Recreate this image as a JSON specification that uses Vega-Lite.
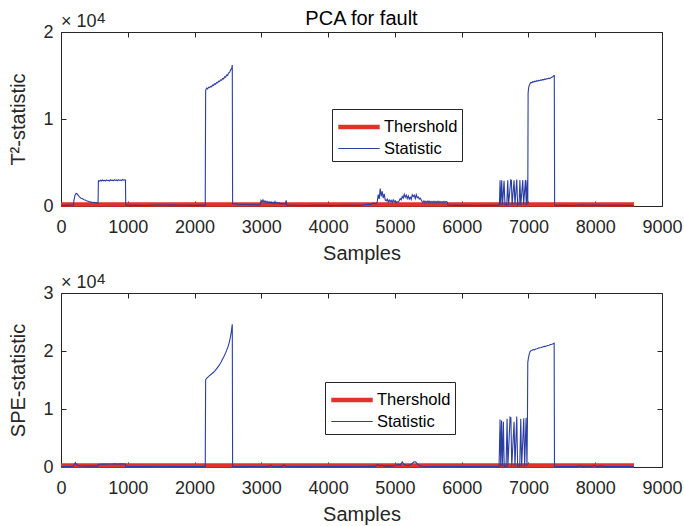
{
  "$schema": "https://vega.github.io/schema/vega-lite/v6.json",
  "background": "#ffffff",
  "padding": {"left": 8, "top": 8, "right": 0, "bottom": 5},
  "config": {
    "font": "Liberation Sans",
    "view": {"stroke": null},
    "axis": {"grid": false, "labelFlush": false, "labelOverlap": false, "domainColor": "#262626", "tickColor": "#262626", "labelColor": "#262626", "titleColor": "#262626", "labelFont": "Liberation Sans", "titleFont": "Liberation Sans", "labelFontSize": 18, "titleFontSize": 20, "titleFontWeight": "normal", "tickSize": -5, "domainWidth": 1, "tickWidth": 1},
    "legend": {"orient": "none", "title": null, "symbolType": "M-1.8,0H1.8", "symbolSize": 529, "symbolOffset": 9, "labelFontSize": 16.5, "labelFont": "Liberation Sans", "labelColor": "#000000", "strokeColor": "#262626", "fillColor": "#ffffff", "padding": 4, "rowPadding": 0, "labelOffset": 11}
  },
  "datasets": {
    "t2thr": [{"s": "Thershold", "x": 0, "y": 180}, {"s": "Thershold", "x": 8580, "y": 180}],
    "spethr": [{"s": "Thershold", "x": 0, "y": 280}, {"s": "Thershold", "x": 8580, "y": 280}],
    "t2stat": [
      {"s":"Statistic","x":0,"y":60},{"s":"Statistic","x":40,"y":90},{"s":"Statistic","x":80,"y":70},{"s":"Statistic","x":120,"y":100},{"s":"Statistic","x":160,"y":80},{"s":"Statistic","x":185,"y":90},{"s":"Statistic","x":195,"y":700},{"s":"Statistic","x":210,"y":1250},{"s":"Statistic","x":225,"y":1450},{"s":"Statistic","x":240,"y":1400},{"s":"Statistic","x":255,"y":1250},{"s":"Statistic","x":270,"y":1100},{"s":"Statistic","x":285,"y":1000},{"s":"Statistic","x":300,"y":900},{"s":"Statistic","x":315,"y":850},{"s":"Statistic","x":330,"y":800},{"s":"Statistic","x":345,"y":720},{"s":"Statistic","x":360,"y":680},{"s":"Statistic","x":375,"y":620},{"s":"Statistic","x":390,"y":580},{"s":"Statistic","x":405,"y":540},{"s":"Statistic","x":420,"y":500},{"s":"Statistic","x":435,"y":470},{"s":"Statistic","x":450,"y":450},{"s":"Statistic","x":465,"y":420},{"s":"Statistic","x":480,"y":400},{"s":"Statistic","x":495,"y":430},{"s":"Statistic","x":510,"y":380},{"s":"Statistic","x":525,"y":400},{"s":"Statistic","x":540,"y":360},{"s":"Statistic","x":555,"y":380},
      {"s":"Statistic","x":560,"y":2900},{"s":"Statistic","x":575,"y":2850},{"s":"Statistic","x":590,"y":2960},{"s":"Statistic","x":605,"y":2880},{"s":"Statistic","x":620,"y":2990},{"s":"Statistic","x":635,"y":2900},{"s":"Statistic","x":650,"y":2950},{"s":"Statistic","x":665,"y":2870},{"s":"Statistic","x":680,"y":3000},{"s":"Statistic","x":695,"y":2920},{"s":"Statistic","x":710,"y":2960},{"s":"Statistic","x":725,"y":2880},{"s":"Statistic","x":740,"y":3010},{"s":"Statistic","x":755,"y":2930},{"s":"Statistic","x":770,"y":2970},{"s":"Statistic","x":785,"y":2900},{"s":"Statistic","x":800,"y":3020},{"s":"Statistic","x":815,"y":2940},{"s":"Statistic","x":830,"y":2990},{"s":"Statistic","x":845,"y":2910},{"s":"Statistic","x":860,"y":3030},{"s":"Statistic","x":875,"y":2950},{"s":"Statistic","x":890,"y":2990},{"s":"Statistic","x":905,"y":2920},{"s":"Statistic","x":920,"y":3040},{"s":"Statistic","x":935,"y":2960},{"s":"Statistic","x":950,"y":3000},{"s":"Statistic","x":965,"y":2980},
      {"s":"Statistic","x":970,"y":90},{"s":"Statistic","x":1050,"y":70},{"s":"Statistic","x":1150,"y":80},{"s":"Statistic","x":1250,"y":60},{"s":"Statistic","x":1350,"y":90},{"s":"Statistic","x":1450,"y":120},{"s":"Statistic","x":1550,"y":110},{"s":"Statistic","x":1650,"y":100},{"s":"Statistic","x":1750,"y":80},{"s":"Statistic","x":1850,"y":90},{"s":"Statistic","x":1950,"y":70},{"s":"Statistic","x":2050,"y":80},{"s":"Statistic","x":2160,"y":70},
      {"s":"Statistic","x":2166,"y":13300},{"s":"Statistic","x":2180,"y":13550},{"s":"Statistic","x":2195,"y":13450},{"s":"Statistic","x":2210,"y":13650},{"s":"Statistic","x":2225,"y":13600},{"s":"Statistic","x":2240,"y":13750},{"s":"Statistic","x":2255,"y":13700},{"s":"Statistic","x":2270,"y":13900},{"s":"Statistic","x":2285,"y":13850},{"s":"Statistic","x":2300,"y":14050},{"s":"Statistic","x":2315,"y":14000},{"s":"Statistic","x":2330,"y":14200},{"s":"Statistic","x":2345,"y":14150},{"s":"Statistic","x":2360,"y":14350},{"s":"Statistic","x":2375,"y":14300},{"s":"Statistic","x":2390,"y":14500},{"s":"Statistic","x":2405,"y":14450},{"s":"Statistic","x":2420,"y":14650},{"s":"Statistic","x":2435,"y":14600},{"s":"Statistic","x":2450,"y":14850},{"s":"Statistic","x":2465,"y":14800},{"s":"Statistic","x":2480,"y":15050},{"s":"Statistic","x":2495,"y":15000},{"s":"Statistic","x":2510,"y":15300},{"s":"Statistic","x":2525,"y":15350},{"s":"Statistic","x":2540,"y":15650},{"s":"Statistic","x":2555,"y":15800},{"s":"Statistic","x":2565,"y":16200},
      {"s":"Statistic","x":2570,"y":250},{"s":"Statistic","x":2650,"y":200},{"s":"Statistic","x":2750,"y":170},{"s":"Statistic","x":2850,"y":150},{"s":"Statistic","x":2950,"y":130},{"s":"Statistic","x":2985,"y":160},
      {"s":"Statistic","x":2995,"y":650},{"s":"Statistic","x":3010,"y":450},{"s":"Statistic","x":3025,"y":700},{"s":"Statistic","x":3040,"y":420},{"s":"Statistic","x":3055,"y":600},{"s":"Statistic","x":3070,"y":380},{"s":"Statistic","x":3085,"y":550},{"s":"Statistic","x":3100,"y":350},{"s":"Statistic","x":3115,"y":500},{"s":"Statistic","x":3130,"y":330},{"s":"Statistic","x":3145,"y":480},{"s":"Statistic","x":3160,"y":300},{"s":"Statistic","x":3175,"y":450},{"s":"Statistic","x":3190,"y":280},{"s":"Statistic","x":3205,"y":520},{"s":"Statistic","x":3220,"y":300},{"s":"Statistic","x":3235,"y":420},{"s":"Statistic","x":3250,"y":260},{"s":"Statistic","x":3265,"y":380},{"s":"Statistic","x":3280,"y":240},{"s":"Statistic","x":3295,"y":330},{"s":"Statistic","x":3310,"y":220},{"s":"Statistic","x":3325,"y":300},{"s":"Statistic","x":3340,"y":250},{"s":"Statistic","x":3360,"y":280},{"s":"Statistic","x":3372,"y":650},{"s":"Statistic","x":3380,"y":100},
      {"s":"Statistic","x":3500,"y":80},{"s":"Statistic","x":3650,"y":60},{"s":"Statistic","x":3800,"y":90},{"s":"Statistic","x":3950,"y":70},{"s":"Statistic","x":4100,"y":60},{"s":"Statistic","x":4250,"y":80},{"s":"Statistic","x":4400,"y":70},{"s":"Statistic","x":4500,"y":90},
      {"s":"Statistic","x":4550,"y":150},{"s":"Statistic","x":4600,"y":220},{"s":"Statistic","x":4640,"y":180},{"s":"Statistic","x":4680,"y":350},{"s":"Statistic","x":4710,"y":250},{"s":"Statistic","x":4735,"y":450},{"s":"Statistic","x":4750,"y":1300},{"s":"Statistic","x":4765,"y":800},{"s":"Statistic","x":4780,"y":2000},{"s":"Statistic","x":4795,"y":1100},{"s":"Statistic","x":4810,"y":1700},{"s":"Statistic","x":4825,"y":900},{"s":"Statistic","x":4840,"y":1400},{"s":"Statistic","x":4855,"y":700},{"s":"Statistic","x":4870,"y":600},{"s":"Statistic","x":4885,"y":800},{"s":"Statistic","x":4900,"y":450},{"s":"Statistic","x":4915,"y":700},{"s":"Statistic","x":4930,"y":500},{"s":"Statistic","x":4945,"y":650},{"s":"Statistic","x":4960,"y":420},{"s":"Statistic","x":4975,"y":700},{"s":"Statistic","x":4990,"y":480},{"s":"Statistic","x":5005,"y":600},{"s":"Statistic","x":5020,"y":380},{"s":"Statistic","x":5035,"y":500},{"s":"Statistic","x":5050,"y":420},{"s":"Statistic","x":5065,"y":600},{"s":"Statistic","x":5080,"y":850},{"s":"Statistic","x":5095,"y":700},{"s":"Statistic","x":5110,"y":1100},{"s":"Statistic","x":5125,"y":900},{"s":"Statistic","x":5140,"y":1350},{"s":"Statistic","x":5155,"y":1000},{"s":"Statistic","x":5170,"y":1250},{"s":"Statistic","x":5185,"y":850},{"s":"Statistic","x":5200,"y":1150},{"s":"Statistic","x":5215,"y":800},{"s":"Statistic","x":5230,"y":1000},{"s":"Statistic","x":5245,"y":750},{"s":"Statistic","x":5260,"y":1300},{"s":"Statistic","x":5275,"y":1100},{"s":"Statistic","x":5290,"y":1250},{"s":"Statistic","x":5305,"y":850},{"s":"Statistic","x":5320,"y":1300},{"s":"Statistic","x":5335,"y":950},{"s":"Statistic","x":5350,"y":1050},{"s":"Statistic","x":5365,"y":800},{"s":"Statistic","x":5380,"y":900},{"s":"Statistic","x":5395,"y":700},
      {"s":"Statistic","x":5405,"y":550},{"s":"Statistic","x":5420,"y":400},{"s":"Statistic","x":5435,"y":600},{"s":"Statistic","x":5450,"y":380},{"s":"Statistic","x":5465,"y":550},{"s":"Statistic","x":5480,"y":400},{"s":"Statistic","x":5495,"y":580},{"s":"Statistic","x":5510,"y":390},{"s":"Statistic","x":5525,"y":560},{"s":"Statistic","x":5540,"y":400},{"s":"Statistic","x":5555,"y":540},{"s":"Statistic","x":5570,"y":380},{"s":"Statistic","x":5585,"y":560},{"s":"Statistic","x":5600,"y":400},{"s":"Statistic","x":5615,"y":530},{"s":"Statistic","x":5630,"y":380},{"s":"Statistic","x":5645,"y":550},{"s":"Statistic","x":5660,"y":390},{"s":"Statistic","x":5675,"y":540},{"s":"Statistic","x":5690,"y":400},{"s":"Statistic","x":5705,"y":520},{"s":"Statistic","x":5720,"y":380},{"s":"Statistic","x":5735,"y":540},{"s":"Statistic","x":5750,"y":400},{"s":"Statistic","x":5765,"y":530},{"s":"Statistic","x":5785,"y":450},{"s":"Statistic","x":5795,"y":80},
      {"s":"Statistic","x":5900,"y":70},{"s":"Statistic","x":6050,"y":90},{"s":"Statistic","x":6200,"y":60},{"s":"Statistic","x":6350,"y":80},{"s":"Statistic","x":6500,"y":70},{"s":"Statistic","x":6565,"y":90},
      {"s":"Statistic","x":6575,"y":2950},{"s":"Statistic","x":6585,"y":100},{"s":"Statistic","x":6600,"y":2950},{"s":"Statistic","x":6612,"y":100},{"s":"Statistic","x":6635,"y":2900},{"s":"Statistic","x":6648,"y":150},{"s":"Statistic","x":6675,"y":100},{"s":"Statistic","x":6690,"y":2950},{"s":"Statistic","x":6702,"y":100},{"s":"Statistic","x":6735,"y":3000},{"s":"Statistic","x":6745,"y":2950},{"s":"Statistic","x":6755,"y":100},{"s":"Statistic","x":6785,"y":2950},{"s":"Statistic","x":6798,"y":150},{"s":"Statistic","x":6825,"y":3050},{"s":"Statistic","x":6838,"y":100},{"s":"Statistic","x":6860,"y":200},{"s":"Statistic","x":6872,"y":3000},{"s":"Statistic","x":6885,"y":100},{"s":"Statistic","x":6915,"y":2980},{"s":"Statistic","x":6928,"y":150},{"s":"Statistic","x":6955,"y":3000},{"s":"Statistic","x":6968,"y":120},{"s":"Statistic","x":6980,"y":2950},{"s":"Statistic","x":6990,"y":200},
      {"s":"Statistic","x":6995,"y":13000},{"s":"Statistic","x":7005,"y":13700},{"s":"Statistic","x":7020,"y":14000},{"s":"Statistic","x":7035,"y":14200},{"s":"Statistic","x":7050,"y":14150},{"s":"Statistic","x":7065,"y":14300},{"s":"Statistic","x":7080,"y":14250},{"s":"Statistic","x":7095,"y":14350},{"s":"Statistic","x":7110,"y":14300},{"s":"Statistic","x":7125,"y":14400},{"s":"Statistic","x":7140,"y":14350},{"s":"Statistic","x":7155,"y":14450},{"s":"Statistic","x":7170,"y":14400},{"s":"Statistic","x":7185,"y":14500},{"s":"Statistic","x":7200,"y":14450},{"s":"Statistic","x":7215,"y":14550},{"s":"Statistic","x":7230,"y":14500},{"s":"Statistic","x":7245,"y":14600},{"s":"Statistic","x":7260,"y":14550},{"s":"Statistic","x":7275,"y":14650},{"s":"Statistic","x":7290,"y":14600},{"s":"Statistic","x":7305,"y":14700},{"s":"Statistic","x":7320,"y":14650},{"s":"Statistic","x":7335,"y":14750},{"s":"Statistic","x":7350,"y":14800},{"s":"Statistic","x":7365,"y":14850},{"s":"Statistic","x":7380,"y":15000},{"s":"Statistic","x":7387,"y":15000},{"s":"Statistic","x":7392,"y":60},
      {"s":"Statistic","x":7500,"y":80},{"s":"Statistic","x":7650,"y":60},{"s":"Statistic","x":7800,"y":120},{"s":"Statistic","x":7900,"y":90},{"s":"Statistic","x":8000,"y":110},{"s":"Statistic","x":8100,"y":80},{"s":"Statistic","x":8250,"y":70},{"s":"Statistic","x":8400,"y":90},{"s":"Statistic","x":8580,"y":60}
    ],
    "spestat": [
      {"s":"Statistic","x":0,"y":50},{"s":"Statistic","x":60,"y":80},{"s":"Statistic","x":120,"y":60},{"s":"Statistic","x":180,"y":90},{"s":"Statistic","x":200,"y":400},{"s":"Statistic","x":215,"y":750},{"s":"Statistic","x":230,"y":500},{"s":"Statistic","x":250,"y":250},{"s":"Statistic","x":280,"y":200},{"s":"Statistic","x":320,"y":180},{"s":"Statistic","x":400,"y":150},{"s":"Statistic","x":480,"y":170},{"s":"Statistic","x":555,"y":160},{"s":"Statistic","x":560,"y":450},{"s":"Statistic","x":600,"y":520},{"s":"Statistic","x":650,"y":500},{"s":"Statistic","x":700,"y":530},{"s":"Statistic","x":750,"y":510},{"s":"Statistic","x":800,"y":540},{"s":"Statistic","x":850,"y":520},{"s":"Statistic","x":900,"y":540},{"s":"Statistic","x":965,"y":520},{"s":"Statistic","x":970,"y":80},{"s":"Statistic","x":1100,"y":60},{"s":"Statistic","x":1300,"y":70},{"s":"Statistic","x":1500,"y":80},{"s":"Statistic","x":1700,"y":70},{"s":"Statistic","x":1900,"y":60},{"s":"Statistic","x":2100,"y":70},{"s":"Statistic","x":2160,"y":60},
      {"s":"Statistic","x":2166,"y":15000},{"s":"Statistic","x":2180,"y":15300},{"s":"Statistic","x":2200,"y":15500},{"s":"Statistic","x":2220,"y":15700},{"s":"Statistic","x":2240,"y":15900},{"s":"Statistic","x":2260,"y":16100},{"s":"Statistic","x":2280,"y":16300},{"s":"Statistic","x":2300,"y":16500},{"s":"Statistic","x":2320,"y":16800},{"s":"Statistic","x":2340,"y":17100},{"s":"Statistic","x":2360,"y":17400},{"s":"Statistic","x":2380,"y":17750},{"s":"Statistic","x":2400,"y":18150},{"s":"Statistic","x":2420,"y":18600},{"s":"Statistic","x":2440,"y":19050},{"s":"Statistic","x":2460,"y":19550},{"s":"Statistic","x":2480,"y":20100},{"s":"Statistic","x":2500,"y":20700},{"s":"Statistic","x":2520,"y":21500},{"s":"Statistic","x":2535,"y":22300},{"s":"Statistic","x":2550,"y":23300},{"s":"Statistic","x":2565,"y":24600},
      {"s":"Statistic","x":2570,"y":80},{"s":"Statistic","x":2700,"y":60},{"s":"Statistic","x":2900,"y":80},{"s":"Statistic","x":3100,"y":70},{"s":"Statistic","x":3140,"y":300},{"s":"Statistic","x":3160,"y":80},{"s":"Statistic","x":3300,"y":70},{"s":"Statistic","x":3345,"y":350},{"s":"Statistic","x":3360,"y":80},{"s":"Statistic","x":3600,"y":60},{"s":"Statistic","x":3900,"y":80},{"s":"Statistic","x":4200,"y":70},{"s":"Statistic","x":4500,"y":80},{"s":"Statistic","x":4700,"y":100},{"s":"Statistic","x":4730,"y":300},{"s":"Statistic","x":4750,"y":450},{"s":"Statistic","x":4770,"y":200},{"s":"Statistic","x":4800,"y":300},{"s":"Statistic","x":4850,"y":150},{"s":"Statistic","x":4900,"y":200},{"s":"Statistic","x":4950,"y":150},{"s":"Statistic","x":5000,"y":250},{"s":"Statistic","x":5050,"y":450},{"s":"Statistic","x":5080,"y":300},{"s":"Statistic","x":5110,"y":900},{"s":"Statistic","x":5130,"y":500},{"s":"Statistic","x":5160,"y":350},{"s":"Statistic","x":5200,"y":250},{"s":"Statistic","x":5250,"y":500},{"s":"Statistic","x":5280,"y":850},{"s":"Statistic","x":5310,"y":900},{"s":"Statistic","x":5340,"y":500},{"s":"Statistic","x":5370,"y":200},{"s":"Statistic","x":5400,"y":120},{"s":"Statistic","x":5600,"y":80},{"s":"Statistic","x":5800,"y":90},{"s":"Statistic","x":6000,"y":60},{"s":"Statistic","x":6200,"y":70},{"s":"Statistic","x":6400,"y":80},{"s":"Statistic","x":6560,"y":70},
      {"s":"Statistic","x":6575,"y":8200},{"s":"Statistic","x":6585,"y":100},{"s":"Statistic","x":6598,"y":8000},{"s":"Statistic","x":6610,"y":100},{"s":"Statistic","x":6625,"y":7800},{"s":"Statistic","x":6637,"y":100},{"s":"Statistic","x":6665,"y":100},{"s":"Statistic","x":6680,"y":8300},{"s":"Statistic","x":6692,"y":100},{"s":"Statistic","x":6725,"y":8600},{"s":"Statistic","x":6737,"y":8500},{"s":"Statistic","x":6750,"y":100},{"s":"Statistic","x":6785,"y":7800},{"s":"Statistic","x":6798,"y":100},{"s":"Statistic","x":6825,"y":8700},{"s":"Statistic","x":6838,"y":100},{"s":"Statistic","x":6870,"y":150},{"s":"Statistic","x":6885,"y":8300},{"s":"Statistic","x":6898,"y":100},{"s":"Statistic","x":6930,"y":8400},{"s":"Statistic","x":6943,"y":100},{"s":"Statistic","x":6965,"y":8500},{"s":"Statistic","x":6978,"y":200},{"s":"Statistic","x":6985,"y":7900},
      {"s":"Statistic","x":6990,"y":18000},{"s":"Statistic","x":7000,"y":18800},{"s":"Statistic","x":7015,"y":19600},{"s":"Statistic","x":7030,"y":20000},{"s":"Statistic","x":7050,"y":20100},{"s":"Statistic","x":7070,"y":20250},{"s":"Statistic","x":7090,"y":20200},{"s":"Statistic","x":7110,"y":20350},{"s":"Statistic","x":7130,"y":20400},{"s":"Statistic","x":7150,"y":20500},{"s":"Statistic","x":7170,"y":20550},{"s":"Statistic","x":7190,"y":20600},{"s":"Statistic","x":7210,"y":20700},{"s":"Statistic","x":7230,"y":20750},{"s":"Statistic","x":7250,"y":20800},{"s":"Statistic","x":7270,"y":20850},{"s":"Statistic","x":7290,"y":20950},{"s":"Statistic","x":7310,"y":21000},{"s":"Statistic","x":7330,"y":21100},{"s":"Statistic","x":7350,"y":21150},{"s":"Statistic","x":7370,"y":21250},{"s":"Statistic","x":7385,"y":21350},{"s":"Statistic","x":7390,"y":50},
      {"s":"Statistic","x":7500,"y":60},{"s":"Statistic","x":7700,"y":70},{"s":"Statistic","x":7800,"y":200},{"s":"Statistic","x":7820,"y":60},{"s":"Statistic","x":7900,"y":180},{"s":"Statistic","x":7920,"y":60},{"s":"Statistic","x":8000,"y":250},{"s":"Statistic","x":8020,"y":60},{"s":"Statistic","x":8100,"y":200},{"s":"Statistic","x":8120,"y":70},{"s":"Statistic","x":8300,"y":60},{"s":"Statistic","x":8580,"y":70}
    ]
  },
  "vconcat": [
    {
      "width": 601,
      "height": 174,
      "title": {"text": "PCA for fault", "fontSize": 20, "fontWeight": "normal", "font": "Liberation Sans", "color": "#000000", "offset": -18, "anchor": "middle", "frame": "group"},
      "layer": [
        {
          "data": {"name": "t2thr"},
          "mark": {"type": "line"},
          "encoding": {
            "x": {"field": "x", "type": "quantitative", "scale": {"domain": [0, 9000], "nice": false, "zero": false}, "axis": {"orient": "bottom", "values": [0, 1000, 2000, 3000, 4000, 5000, 6000, 7000, 8000, 9000], "format": "d", "title": "Samples", "labelPadding": 17.5, "titlePadding": 7}},
            "y": {"field": "y", "type": "quantitative", "scale": {"domain": [0, 20000], "nice": false}, "axis": {"orient": "left", "values": [0, 10000, 20000], "labelExpr": "datum.value / 10000", "title": "T²-statistic", "labelPadding": 13, "titlePadding": 14}},
            "color": {"field": "s", "type": "nominal", "scale": {"domain": ["Thershold", "Statistic"], "range": ["#e2312a", "#2b3ea3"]}, "legend": {"legendX": 271, "legendY": 77}},
            "strokeWidth": {"field": "s", "type": "nominal", "scale": {"domain": ["Thershold", "Statistic"], "range": [4.5, 1.1]}, "legend": {"legendX": 271, "legendY": 77}}
          }
        },
        {
          "data": {"name": "t2stat"},
          "mark": {"type": "line"},
          "encoding": {
            "x": {"field": "x", "type": "quantitative", "scale": {"domain": [0, 9000], "nice": false, "zero": false}, "axis": {"orient": "top", "values": [0, 1000, 2000, 3000, 4000, 5000, 6000, 7000, 8000, 9000], "labels": false, "title": null}},
            "y": {"field": "y", "type": "quantitative", "scale": {"domain": [0, 20000], "nice": false}, "axis": {"orient": "right", "values": [0, 10000, 20000], "labels": false, "title": null}},
            "color": {"field": "s", "type": "nominal"},
            "strokeWidth": {"field": "s", "type": "nominal"}
          }
        },
        {
          "data": {"values": [{"x": 0, "y": 20000, "t": "× 10"}]},
          "mark": {"type": "text", "align": "left", "baseline": "alphabetic", "dx": 0, "dy": -4.7, "fontSize": 18, "font": "Liberation Sans", "color": "#262626"},
          "encoding": {
            "x": {"field": "x", "type": "quantitative", "axis": null},
            "y": {"field": "y", "type": "quantitative", "axis": null},
            "text": {"field": "t"}
          }
        },
        {
          "data": {"values": [{"x": 0, "y": 20000, "t": "4"}]},
          "mark": {"type": "text", "align": "left", "baseline": "alphabetic", "dx": 36, "dy": -9.5, "fontSize": 15, "font": "Liberation Sans", "color": "#262626"},
          "encoding": {
            "x": {"field": "x", "type": "quantitative", "axis": null},
            "y": {"field": "y", "type": "quantitative", "axis": null},
            "text": {"field": "t"}
          }
        }
      ],
      "resolve": {"axis": {"x": "independent", "y": "independent"}}
    },
    {
      "width": 601,
      "height": 174,
      "layer": [
        {
          "data": {"name": "spethr"},
          "mark": {"type": "line"},
          "encoding": {
            "x": {"field": "x", "type": "quantitative", "scale": {"domain": [0, 9000], "nice": false, "zero": false}, "axis": {"orient": "bottom", "values": [0, 1000, 2000, 3000, 4000, 5000, 6000, 7000, 8000, 9000], "format": "d", "title": "Samples", "labelPadding": 17.5, "titlePadding": 7}},
            "y": {"field": "y", "type": "quantitative", "scale": {"domain": [0, 30000], "nice": false}, "axis": {"orient": "left", "values": [0, 10000, 20000, 30000], "labelExpr": "datum.value / 10000", "title": "SPE-statistic", "labelPadding": 13, "titlePadding": 14}},
            "color": {"field": "s", "type": "nominal", "scale": {"domain": ["Thershold", "Statistic"], "range": ["#e2312a", "#2b3ea3"]}, "legend": {"legendX": 264, "legendY": 89}},
            "strokeWidth": {"field": "s", "type": "nominal", "scale": {"domain": ["Thershold", "Statistic"], "range": [4.5, 1.1]}, "legend": {"legendX": 264, "legendY": 89}}
          }
        },
        {
          "data": {"name": "spestat"},
          "mark": {"type": "line"},
          "encoding": {
            "x": {"field": "x", "type": "quantitative", "scale": {"domain": [0, 9000], "nice": false, "zero": false}, "axis": {"orient": "top", "values": [0, 1000, 2000, 3000, 4000, 5000, 6000, 7000, 8000, 9000], "labels": false, "title": null}},
            "y": {"field": "y", "type": "quantitative", "scale": {"domain": [0, 30000], "nice": false}, "axis": {"orient": "right", "values": [0, 10000, 20000, 30000], "labels": false, "title": null}},
            "color": {"field": "s", "type": "nominal"},
            "strokeWidth": {"field": "s", "type": "nominal"}
          }
        },
        {
          "data": {"values": [{"x": 0, "y": 30000, "t": "× 10"}]},
          "mark": {"type": "text", "align": "left", "baseline": "alphabetic", "dx": 0, "dy": -4.7, "fontSize": 18, "font": "Liberation Sans", "color": "#262626"},
          "encoding": {
            "x": {"field": "x", "type": "quantitative", "axis": null},
            "y": {"field": "y", "type": "quantitative", "axis": null},
            "text": {"field": "t"}
          }
        },
        {
          "data": {"values": [{"x": 0, "y": 30000, "t": "4"}]},
          "mark": {"type": "text", "align": "left", "baseline": "alphabetic", "dx": 36, "dy": -9.5, "fontSize": 15, "font": "Liberation Sans", "color": "#262626"},
          "encoding": {
            "x": {"field": "x", "type": "quantitative", "axis": null},
            "y": {"field": "y", "type": "quantitative", "axis": null},
            "text": {"field": "t"}
          }
        }
      ],
      "resolve": {"axis": {"x": "independent", "y": "independent"}}
    }
  ],
  "spacing": 87,
  "bounds": "flush",
  "resolve": {"scale": {"x": "independent", "y": "independent", "color": "independent", "strokeWidth": "independent"}, "legend": {"color": "independent", "strokeWidth": "independent"}}
}
